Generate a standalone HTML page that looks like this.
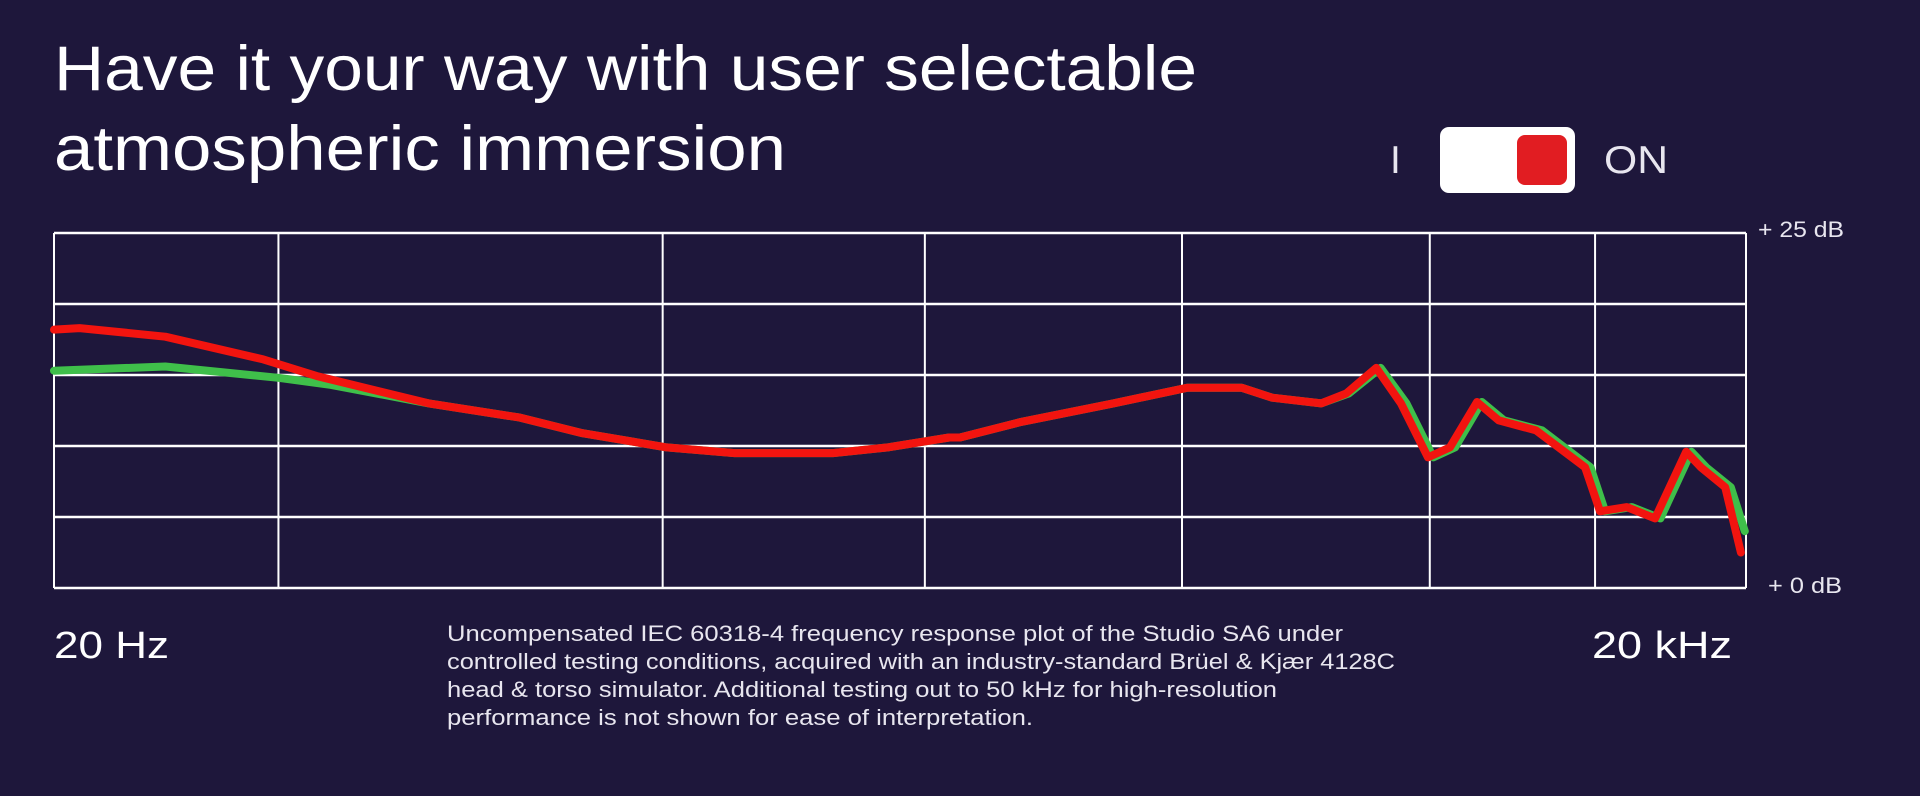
<!DOCTYPE html>
<html><head><meta charset="utf-8"><style>
html,body{margin:0;padding:0;background:#1e173b;}
svg{display:block;font-family:"Liberation Sans",sans-serif;}
</style></head><body>
<svg id="root" width="1920" height="796" viewBox="0 0 1920 796" xmlns="http://www.w3.org/2000/svg">
<rect x="0" y="0" width="1920" height="796" fill="#1e173b"/>
<g fill="#ffffff" font-size="63">
<text x="54" y="90" textLength="1143" lengthAdjust="spacingAndGlyphs">Have it your way with user selectable</text>
<text x="54" y="170" textLength="732" lengthAdjust="spacingAndGlyphs">atmospheric immersion</text>
</g>
<g>
<text x="1390" y="173" fill="#e8e6ef" font-size="39">I</text>
<rect x="1440" y="127" width="135" height="66" rx="9" fill="#ffffff"/>
<rect x="1517" y="135" width="50" height="50" rx="8" fill="#e11d22"/>
<text x="1604" y="173" fill="#e8e6ef" font-size="39" textLength="64" lengthAdjust="spacingAndGlyphs">ON</text>
</g>
<g id="grid"></g>
<g id="series"></g>
<text x="1758" y="237" fill="#e8e6ef" font-size="22" textLength="86" lengthAdjust="spacingAndGlyphs">+ 25 dB</text>
<text x="1768" y="593" fill="#e8e6ef" font-size="22" textLength="74" lengthAdjust="spacingAndGlyphs">+ 0 dB</text>
<text x="54" y="658" fill="#ffffff" font-size="38" textLength="115" lengthAdjust="spacingAndGlyphs">20 Hz</text>
<text x="1592" y="658" fill="#ffffff" font-size="38" textLength="140" lengthAdjust="spacingAndGlyphs">20 kHz</text>
<g fill="#e8e6ef" font-size="22">
<text x="447" y="641" textLength="896" lengthAdjust="spacingAndGlyphs">Uncompensated IEC 60318-4 frequency response plot of the Studio SA6 under</text>
<text x="447" y="669" textLength="948" lengthAdjust="spacingAndGlyphs">controlled testing conditions, acquired with an industry-standard Brüel &amp; Kjær 4128C</text>
<text x="447" y="697" textLength="830" lengthAdjust="spacingAndGlyphs">head &amp; torso simulator. Additional testing out to 50 kHz for high-resolution</text>
<text x="447" y="725" textLength="586" lengthAdjust="spacingAndGlyphs">performance is not shown for ease of interpretation.</text>
</g>
</svg>
<script>
const dbTicks = [0, 5, 10, 15, 20, 25];
const freqGridlines = [20, 50, 240, 700, 2000, 5500, 10800, 20000];
const redFreqs = [20, 22.2, 31.5, 47, 58.8, 92.4, 134, 173, 244, 322, 481, 602, 773, 808, 1037, 1510, 2041, 2554, 2890, 3530, 3910, 4420, 4890, 5460, 5970, 6670, 7290, 8490, 10370, 11020, 12300, 13800, 15670, 16640, 18370, 19590];
const redDb = [18.2, 18.3, 17.7, 16.1, 14.9, 13.0, 12.0, 10.9, 9.9, 9.5, 9.5, 9.9, 10.6, 10.6, 11.7, 13.0, 14.1, 14.1, 13.4, 13.0, 13.7, 15.5, 13.0, 9.2, 9.9, 13.1, 11.8, 11.1, 8.5, 5.4, 5.7, 4.9, 9.6, 8.5, 7.1, 2.5];
const greenFreqs = [20, 31.5, 50, 62, 92.4, 134, 173, 244, 322, 481, 602, 773, 808, 1037, 1510, 2041, 2554, 2890, 3530, 3950, 4500, 5000, 5580, 6100, 6800, 7450, 8700, 10600, 11250, 12550, 14100, 16000, 17000, 18800, 19900];
const greenDb = [15.3, 15.6, 14.8, 14.3, 13.0, 12.0, 10.9, 9.9, 9.5, 9.5, 9.9, 10.6, 10.6, 11.7, 13.0, 14.1, 14.1, 13.4, 13.0, 13.7, 15.5, 13.0, 9.2, 9.9, 13.1, 11.8, 11.1, 8.5, 5.4, 5.7, 4.9, 9.6, 8.5, 7.1, 4.0];

const X0 = 54, X1 = 1746, Y0 = 588, Y1 = 233;
const FMIN = 20, FMAX = 20000, DBMIN = 0, DBMAX = 25;
function xScale(f){ return X0 + (Math.log10(f) - Math.log10(FMIN)) / (Math.log10(FMAX) - Math.log10(FMIN)) * (X1 - X0); }
function yScale(d){ return Y0 - (d - DBMIN) / (DBMAX - DBMIN) * (Y0 - Y1); }
const NS = "http://www.w3.org/2000/svg";
const grid = document.getElementById('grid');
dbTicks.forEach(d => {
  const l = document.createElementNS(NS, 'line');
  l.setAttribute('x1', X0); l.setAttribute('x2', X1);
  l.setAttribute('y1', yScale(d)); l.setAttribute('y2', yScale(d));
  l.setAttribute('stroke', '#ffffff'); l.setAttribute('stroke-width', '2.5');
  
  
  grid.appendChild(l);
});
freqGridlines.forEach(f => {
  const l = document.createElementNS(NS, 'line');
  l.setAttribute('x1', xScale(f)); l.setAttribute('x2', xScale(f));
  l.setAttribute('y1', Y1); l.setAttribute('y2', Y0);
  l.setAttribute('stroke', '#ffffff'); l.setAttribute('stroke-width', '2');
  
  
  grid.appendChild(l);
});
function drawLine(freqs, vals, color, name){
  const p = document.createElementNS(NS, 'polyline');
  p.setAttribute('points', freqs.map((f, i) => xScale(f).toFixed(1) + ',' + yScale(vals[i]).toFixed(1)).join(' '));
  p.setAttribute('fill', 'none'); p.setAttribute('stroke', color);
  p.setAttribute('stroke-width', '8'); p.setAttribute('stroke-linejoin', 'round'); p.setAttribute('stroke-linecap', 'round');
  
  
  document.getElementById('series').appendChild(p);
}
drawLine(greenFreqs, greenDb, '#3fbf4a', 'response-line-off');
drawLine(redFreqs, redDb, '#f2140f', 'response-line-on');
</script>
</body></html>
